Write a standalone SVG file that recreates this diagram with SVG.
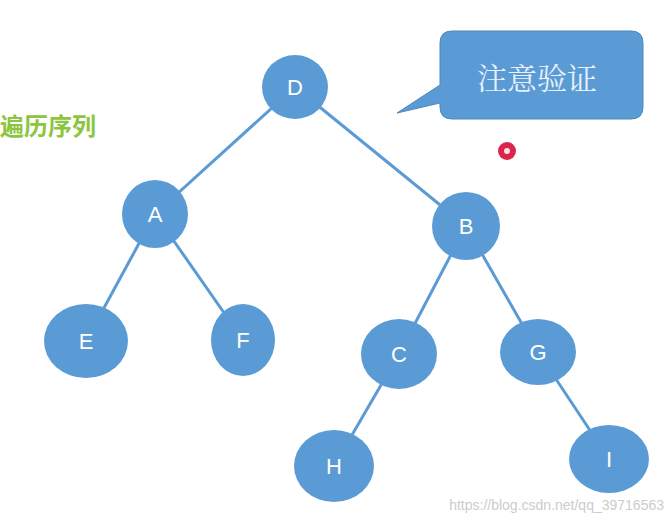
<svg xmlns="http://www.w3.org/2000/svg" width="669" height="525" viewBox="0 0 669 525">
<style>
.n{fill:#5b9bd5}
.t{fill:#fff;font-family:"Liberation Sans",sans-serif;font-size:22px;text-anchor:middle;dominant-baseline:central}
.e{stroke:#5b9bd5;stroke-width:3;fill:none}
</style>
<rect width="669" height="525" fill="#fff"/>
<g id="connectors">
<line class="e" x1="295" y1="87" x2="155" y2="214"/>
<line class="e" x1="295" y1="87" x2="466" y2="226"/>
<line class="e" x1="155" y1="214" x2="86" y2="341"/>
<line class="e" x1="155" y1="214" x2="243" y2="340"/>
<line class="e" x1="466" y1="226" x2="399" y2="354"/>
<line class="e" x1="466" y1="226" x2="538" y2="352"/>
<line class="e" x1="399" y1="354" x2="334" y2="466"/>
<line class="e" x1="538" y1="352" x2="609" y2="459"/>
</g>
<g id="D"><ellipse class="n" cx="295" cy="87" rx="33" ry="32"/><text class="t" x="295" y="87">D</text></g>
<g id="A"><ellipse class="n" cx="155" cy="214" rx="33" ry="34"/><text class="t" x="155" y="214">A</text></g>
<g id="B"><ellipse class="n" cx="466" cy="226" rx="34" ry="34"/><text class="t" x="466" y="226">B</text></g>
<g id="E"><ellipse class="n" cx="86" cy="341" rx="42" ry="37"/><text class="t" x="86" y="341">E</text></g>
<g id="F"><ellipse class="n" cx="243" cy="340" rx="32" ry="36"/><text class="t" x="243" y="340">F</text></g>
<g id="C"><ellipse class="n" cx="399" cy="354" rx="38" ry="35"/><text class="t" x="399" y="354">C</text></g>
<g id="G"><ellipse class="n" cx="538" cy="352" rx="38" ry="33"/><text class="t" x="538" y="352">G</text></g>
<g id="H"><ellipse class="n" cx="334" cy="466" rx="40" ry="36"/><text class="t" x="334" y="466">H</text></g>
<g id="I"><ellipse class="n" cx="609" cy="459" rx="40" ry="34"/><text class="t" x="609" y="459">I</text></g>
<g id="callout">
<path d="M452,31 H631 Q643,31 643,43 V107 Q643,119 631,119 H452 Q440,119 440,107 V103 L397,113 L440,85 V43 Q440,31 452,31 Z" fill="#5b9bd5" stroke="#4a88c0" stroke-width="1"/>
<text x="537" y="76" fill="#e8f1fa" font-family="'Noto Serif CJK SC','Noto Sans CJK SC',serif" font-size="30" text-anchor="middle" dominant-baseline="central">注意验证</text>
</g>
<text x="0" y="135" fill="#8cc63f" font-family="'Noto Sans CJK SC',sans-serif" font-size="24" font-weight="bold">遍历序列</text>
<circle cx="507" cy="151" r="9" fill="#d4002a" opacity="0.85"/>
<circle cx="507" cy="151" r="3" fill="#ffe0e6"/>
<text x="664" y="510" fill="#ccc" font-family="'Liberation Sans',sans-serif" font-size="14" text-anchor="end">https://blog.csdn.net/qq_39716563</text>
</svg>
